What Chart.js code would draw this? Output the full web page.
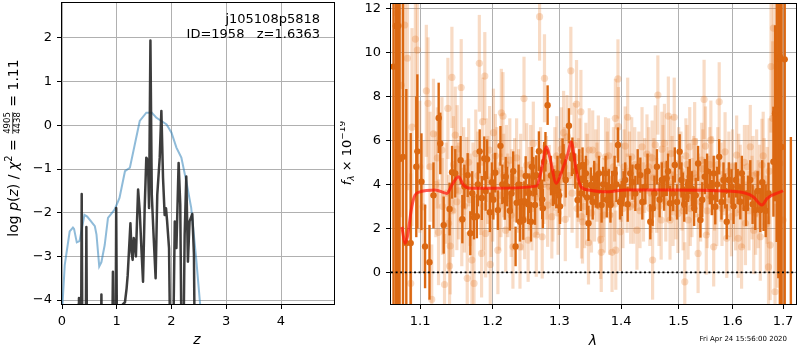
<!DOCTYPE html>
<html>
<head>
<meta charset="utf-8">
<script src="https://cdn.jsdelivr.net/npm/chart.js@4.4.1/dist/chart.umd.min.js"></script>
<style>
  body { margin: 0; background: #fff; }
  #wrap { position: relative; width: 800px; height: 350px; }
  canvas { position: absolute; top: 0; }
</style>
</head>
<body>
<div id="wrap">
  <canvas id="pz" width="340" height="350" style="left:0"></canvas>
  <canvas id="sp" width="460" height="350" style="left:340px"></canvas>
</div>
<script>
// ---- left panel: redshift probability ----
var zTicks = [0, 1, 2, 3, 4];
var pzTicks = [-4, -3, -2, -1, 0, 1, 2];
// chi2 / prior curve (blue)
var chiCurve = [
  [0.0, -4.3], [0.05, -3.2], [0.14, -2.43], [0.2, -2.34], [0.22, -2.37], [0.27, -2.68],
  [0.32, -2.65], [0.41, -2.05], [0.46, -2.09], [0.6, -2.31], [0.63, -2.5], [0.68, -3.23],
  [0.72, -3.13], [0.78, -2.74], [0.84, -2.12], [0.96, -1.93], [1.05, -1.66], [1.15, -1.05],
  [1.24, -0.97], [1.42, 0.1], [1.54, 0.29], [1.64, 0.29], [1.72, 0.18], [1.91, 0.02],
  [2.0, -0.17], [2.09, -0.51], [2.18, -0.74], [2.27, -1.28], [2.36, -1.89], [2.45, -3.04],
  [2.53, -4.2]
];
// log p(z) (dark)
var logPz = [
  [0.28, -6], [0.30, -4.1], [0.31, -3.95], [0.32, -4.3], [0.345, -6], [0.36, -1.57],
  [0.375, -6], [0.43, -6], [0.445, -2.33], [0.46, -6], [0.70, -6], [0.72, -3.87],
  [0.735, -6], [0.91, -6], [0.93, -3.35], [0.95, -6], [0.975, -6], [0.99, -1.89],
  [1.01, -6], [1.09, -6], [1.11, -4.1], [1.15, -4.05], [1.18, -3.73], [1.20, -3.43],
  [1.25, -2.24], [1.27, -2.9], [1.29, -3.08], [1.31, -2.58], [1.33, -2.7], [1.35, -3.0],
  [1.37, -2.2], [1.39, -1.47], [1.42, -1.97], [1.45, -2.81], [1.48, -3.58], [1.51, -1.89],
  [1.54, -0.74], [1.57, -0.82], [1.59, -1.89], [1.615, 1.94], [1.64, -1.59], [1.675, -2.58],
  [1.71, -3.5], [1.74, -1.59], [1.785, -0.74], [1.815, 0.33], [1.845, -1.2], [1.875, -2.05],
  [1.90, -1.9], [1.92, -2.2], [1.955, -2.81], [1.985, -6], [2.02, -6], [2.06, -2.2],
  [2.09, -2.81], [2.13, -0.86], [2.16, -1.82], [2.19, -6], [2.21, -6], [2.24, -2.51],
  [2.27, -1.17], [2.30, -3.12], [2.33, -2.2], [2.38, -2.03], [2.41, -2.97], [2.43, -6]
];

// ---- right panel: spectrum ----
var lamTicks = [1.1, 1.2, 1.3, 1.4, 1.5, 1.6, 1.7];
var fluxTicks = [0, 2, 4, 6, 8, 10, 12];
var lamMin = 1.0623, lamMax = 1.7266;
// [lambda, flux, err] - strong points
var darkPts = [
  [1.0655, 9.35, 20], [1.0685, 11.2, 20], [1.0715, 11.2, 20], [1.0733, 5.15, 12], [1.0777, 5.25, 10],
  [1.0820, 1.33, 7], [1.0877, 1.33, 5], [1.0950, 4.8, 3.2], [1.0964, 5.5, 3.5], [1.1018, 4.12, 2.2],
  [1.1066, 1.18, 1.9], [1.1125, 0.46, 1.7], [1.1178, 3.5, 1.5], [1.1248, 7.02, 1.6], [1.1270, 5.86, 1.4],
  [1.1316, 2.15, 1.3], [1.1396, 2.88, 1.2], [1.1430, 4.55, 1.2], [1.1474, 4.5, 1.1], [1.1548, 5.1, 1.1],
  [1.1572, 2.42, 1.1], [1.1600, 3.9, 1.0], [1.1646, 4.42, 1.0], [1.1683, 1.78, 1.0], [1.1710, 3.6, 1.0],
  [1.1735, 2.5, 1.0], [1.1775, 2.55, 1.0], [1.1790, 4.0, 1.0], [1.1815, 5.5, 1.0], [1.1845, 3.38, 1.0],
  [1.1880, 5.18, 1.0], [1.1900, 3.7, 0.9], [1.1920, 5.14, 0.9], [1.1960, 2.73, 0.9], [1.1990, 4.1, 0.9],
  [1.2010, 3.3, 0.9], [1.2037, 4.53, 0.9], [1.2076, 2.83, 0.9], [1.2113, 5.75, 0.9], [1.2140, 4.0, 0.9],
  [1.2176, 3.29, 0.9], [1.2190, 4.35, 0.9], [1.2210, 3.9, 0.9], [1.2250, 2.8, 0.9], [1.2275, 3.59, 0.9],
  [1.2300, 4.6, 0.9], [1.2335, 1.18, 0.9], [1.2350, 3.16, 0.9], [1.2380, 4.0, 0.9], [1.2400, 2.3, 0.9],
  [1.2420, 3.21, 0.9], [1.2450, 2.38, 0.9], [1.2465, 3.24, 0.9], [1.2485, 4.38, 0.9], [1.2522, 3.1, 0.9],
  [1.2540, 3.6, 0.9], [1.2565, 2.3, 0.9], [1.2580, 4.8, 0.9], [1.2600, 4.35, 0.9], [1.2625, 3.06, 0.9],
  [1.2645, 4.42, 0.9], [1.2685, 5.51, 0.9], [1.2710, 3.9, 0.9], [1.2735, 3.32, 0.9], [1.2745, 2.91, 0.9],
  [1.2765, 5.03, 0.9], [1.2785, 5.48, 0.9], [1.2818, 7.6, 0.9], [1.2870, 4.4, 0.9], [1.2900, 3.82, 0.8],
  [1.2918, 3.89, 0.8], [1.2952, 3.71, 0.8], [1.2970, 4.5, 0.8], [1.2993, 3.5, 0.8], [1.3010, 3.0, 0.8],
  [1.3050, 5.29, 0.8], [1.3066, 5.03, 0.8], [1.3100, 4.2, 0.8], [1.3150, 6.66, 0.8], [1.3196, 5.18, 0.8],
  [1.3205, 5.33, 0.8], [1.3250, 4.6, 0.8], [1.3287, 3.29, 0.8], [1.3313, 4.8, 0.8], [1.3340, 3.59, 0.8],
  [1.3366, 4.88, 0.8], [1.3390, 4.2, 0.8], [1.3420, 4.5, 0.8], [1.3440, 3.4, 0.8], [1.3462, 2.23, 0.8],
  [1.3500, 3.97, 0.8], [1.3530, 3.2, 0.8], [1.3555, 4.27, 0.8], [1.3580, 3.74, 0.8], [1.3610, 3.7, 0.8],
  [1.3633, 4.5, 0.8], [1.3675, 3.06, 0.8], [1.3700, 4.0, 0.8], [1.3741, 4.5, 0.8], [1.3760, 3.3, 0.8],
  [1.3794, 3.89, 0.8], [1.3821, 3.06, 0.8], [1.3850, 3.82, 0.8], [1.3890, 4.5, 0.8], [1.3920, 4.0, 0.8],
  [1.3946, 5.79, 0.8], [1.3980, 3.2, 0.8], [1.4010, 3.36, 0.8], [1.4040, 3.8, 0.8], [1.4068, 4.2, 0.8],
  [1.4110, 3.1, 0.8], [1.4153, 4.5, 0.8], [1.4190, 4.1, 0.8], [1.4240, 3.59, 0.8], [1.4280, 4.8, 0.8],
  [1.4326, 4.42, 0.8], [1.4360, 3.2, 0.8], [1.4412, 3.89, 0.8], [1.4450, 4.6, 0.8], [1.4498, 2.3, 0.8],
  [1.4538, 2.91, 0.8], [1.4570, 3.6, 0.8], [1.4613, 4.8, 0.8], [1.4660, 3.3, 0.8], [1.4700, 4.2, 0.8],
  [1.4740, 3.6, 0.8], [1.4786, 4.27, 0.8], [1.4810, 4.6, 0.8], [1.4845, 3.14, 0.8], [1.4900, 3.59, 0.8],
  [1.4930, 4.88, 0.8], [1.4970, 3.2, 0.8], [1.5017, 5.48, 0.8], [1.5050, 4.2, 0.8], [1.5078, 3.74, 0.8],
  [1.5100, 3.1, 0.8], [1.5140, 3.44, 0.8], [1.5170, 4.0, 0.8], [1.5200, 4.35, 0.8], [1.5240, 3.8, 0.8],
  [1.5280, 2.91, 0.8], [1.5310, 3.5, 0.8], [1.5353, 4.95, 0.8], [1.5396, 2.38, 0.8], [1.5430, 3.3, 0.8],
  [1.5477, 4.35, 0.8], [1.5520, 4.6, 0.8], [1.5570, 3.89, 0.8], [1.5610, 3.4, 0.8], [1.5643, 4.5, 0.8],
  [1.5673, 2.98, 0.8], [1.5710, 4.0, 0.8], [1.5747, 5.25, 0.8], [1.5790, 3.2, 0.8], [1.5828, 4.2, 0.8],
  [1.5860, 3.7, 0.8], [1.5890, 2.3, 0.8], [1.5930, 4.2, 0.8], [1.5980, 3.89, 0.8], [1.6020, 3.0, 0.8],
  [1.6065, 4.2, 0.8], [1.6100, 3.9, 0.8], [1.6150, 3.21, 0.8], [1.6180, 4.5, 0.8], [1.6215, 3.59, 0.8],
  [1.6260, 2.91, 0.8], [1.6300, 3.6, 0.8], [1.6345, 4.2, 0.9], [1.6390, 3.1, 0.9], [1.6443, 2.83, 0.9],
  [1.6490, 3.7, 0.9], [1.6542, 2.83, 1.0], [1.6580, 4.1, 1.0], [1.6608, 2.98, 1.1], [1.6650, 2.8, 1.2],
  [1.6706, 3.59, 1.4], [1.6805, 5.03, 2.5], [1.6837, 7.23, 4], [1.6870, 7.38, 6], [1.6904, 9.73, 10],
  [1.6935, 9.8, 15], [1.6970, 5.7, 20], [1.7034, 9.68, 20], [1.7160, -3.0, 9.15]
];
// [lambda, flux, err] - faint points
var lightPts = [
  [1.0702, 11.77, 6], [1.0754, 8.5, 6], [1.0799, 11.24, 6], [1.0834, 9.73, 6], [1.0877, -0.5, 5],
  [1.0894, 6.6, 4.5], [1.0938, 10.6, 4], [1.0964, 10.1, 4], [1.0996, 4.8, 3], [1.1040, 2.98, 3],
  [1.1083, 8.25, 3], [1.1105, 7.68, 3], [1.1132, 4.8, 2.5], [1.1155, -1.23, 2.5], [1.1178, 6.3, 2.5],
  [1.1210, 4.0, 2.4], [1.1230, 5.2, 2.3], [1.1246, 1.82, 2.4], [1.1292, 5.56, 2.4], [1.1300, 3.0, 2.2],
  [1.1327, -0.55, 2.3], [1.1350, 3.6, 2.3], [1.1373, 7.45, 2.3], [1.1382, 2.23, 2.2], [1.1396, 0.29, 2.2],
  [1.1405, 1.2, 2.2], [1.1428, 8.86, 2.3], [1.1440, 2.8, 2.1], [1.1450, 4.9, 2.2], [1.1474, 6.24, 2.2],
  [1.1496, 3.21, 2.2], [1.1500, 5.6, 2.0], [1.1520, 3.7, 2.2], [1.1556, 8.4, 2.2], [1.1564, 2.38, 2.1],
  [1.1590, 4.6, 2.0], [1.1600, 3.0, 2.1], [1.1632, 4.05, 2.1], [1.1640, -0.27, 2.1], [1.1660, 5.0, 2.0],
  [1.1680, 3.3, 2.1], [1.1706, 0.56, 2.1], [1.1720, 3.9, 2.0], [1.1735, -0.5, 2.1], [1.1760, 5.4, 2.0],
  [1.1790, 4.4, 2.0], [1.1810, 9.5, 2.2], [1.1830, 3.6, 1.9], [1.1842, 0.86, 2.0], [1.1857, 6.85, 2.0],
  [1.1870, 3.0, 2.0], [1.1888, 8.92, 2.0], [1.1900, 1.77, 2.0], [1.1910, 5.1, 1.9], [1.1930, 4.2, 2.0],
  [1.1956, 5.56, 2.0], [1.1966, 0.36, 2.0], [1.1980, 2.6, 1.9], [1.2000, 3.4, 2.0], [1.2012, 6.35, 2.0],
  [1.2040, 5.3, 1.9], [1.2060, 4.6, 2.0], [1.2076, 1.01, 2.0], [1.2100, 3.0, 2.0], [1.2120, 3.5, 1.9],
  [1.2126, 7.25, 2.0], [1.2150, 7.1, 2.0], [1.2160, 4.4, 1.9], [1.2190, 1.92, 1.9], [1.2200, 4.9, 1.8],
  [1.2220, 3.5, 1.9], [1.2250, 5.1, 1.9], [1.2270, 2.6, 1.9], [1.2280, 3.8, 1.8], [1.2296, 1.16, 1.9],
  [1.2320, 4.2, 1.9], [1.2350, 5.2, 1.8], [1.2380, 3.7, 1.9], [1.2400, 1.16, 1.9], [1.2410, 4.5, 1.8],
  [1.2430, 2.9, 1.9], [1.2460, 7.9, 1.9], [1.2470, 2.4, 1.8], [1.2500, 4.88, 1.9], [1.2522, 1.47, 1.9],
  [1.2540, 3.8, 1.9], [1.2560, 4.9, 1.8], [1.2580, 2.9, 1.9], [1.2600, 5.86, 1.9], [1.2630, 3.4, 1.8],
  [1.2645, 1.7, 1.9], [1.2670, 3.6, 1.9], [1.2695, 11.62, 2.0], [1.2710, 4.7, 1.9], [1.2735, 1.62, 1.9],
  [1.2760, 4.0, 1.8], [1.2770, 8.82, 2.0], [1.2800, 4.3, 1.9], [1.2818, 3.06, 1.9], [1.2845, 3.89, 1.9],
  [1.2883, 2.53, 1.9], [1.2900, 3.2, 1.8], [1.2930, 4.7, 1.9], [1.2960, 5.3, 1.8], [1.2980, 2.7, 1.9],
  [1.3000, 3.5, 1.8], [1.3013, 4.2, 1.9], [1.3030, 5.6, 1.9], [1.3066, 6.35, 1.9], [1.3080, 4.8, 1.8],
  [1.3093, 2.41, 1.9], [1.3120, 6.16, 1.9], [1.3150, 4.4, 1.9], [1.3180, 9.16, 2.0], [1.3200, 3.6, 1.8],
  [1.3230, 5.8, 1.9], [1.3270, 7.65, 2.0], [1.3280, 2.9, 1.8], [1.3300, 4.2, 1.9], [1.3320, 5.2, 1.8],
  [1.3340, 7.3, 1.9], [1.3350, 2.53, 1.9], [1.3366, 2.3, 1.9], [1.3400, 3.0, 1.9], [1.3420, 5.0, 1.8],
  [1.3440, 4.4, 1.9], [1.3462, 1.35, 1.9], [1.3475, 5.56, 1.9], [1.3510, 2.7, 1.8], [1.3530, 5.56, 1.8],
  [1.3560, 3.2, 1.8], [1.3580, 4.8, 1.7], [1.3600, 4.1, 1.8], [1.3622, 5.33, 1.8], [1.3640, 3.0, 1.7],
  [1.3660, 1.5, 1.8], [1.3670, 0.91, 1.8], [1.3700, 3.4, 1.8], [1.3720, 2.6, 1.7], [1.3740, 5.25, 1.8],
  [1.3770, 4.6, 1.8], [1.3790, 5.3, 1.7], [1.3810, 2.6, 1.8], [1.3830, 4.2, 1.7], [1.3848, 0.91, 1.8],
  [1.3870, 4.8, 1.8], [1.3890, 3.1, 1.7], [1.3903, 7.0, 1.8], [1.3910, 1.01, 1.8], [1.3946, 8.79, 1.8],
  [1.3955, 6.62, 1.8], [1.3985, 1.85, 1.8], [1.4000, 4.1, 1.8], [1.4030, 2.9, 1.8], [1.4050, 4.8, 1.7],
  [1.4068, 5.74, 1.8], [1.4100, 3.6, 1.8], [1.4110, 7.05, 1.8], [1.4140, 4.6, 1.8], [1.4160, 3.0, 1.7],
  [1.4178, 5.25, 1.8], [1.4210, 3.1, 1.8], [1.4230, 4.9, 1.7], [1.4268, 1.92, 1.8], [1.4300, 4.6, 1.8],
  [1.4320, 2.8, 1.7], [1.4355, 5.71, 1.8], [1.4380, 3.2, 1.8], [1.4400, 4.4, 1.7], [1.4440, 5.38, 1.8],
  [1.4470, 4.8, 1.8], [1.4490, 2.9, 1.7], [1.4510, 3.6, 1.8], [1.4530, 5.2, 1.7], [1.4538, 0.56, 1.8],
  [1.4560, 4.3, 1.8], [1.4584, 5.79, 1.8], [1.4610, 3.5, 1.7], [1.4630, 8.06, 1.8], [1.4650, 3.0, 1.8],
  [1.4688, 2.38, 1.8], [1.4700, 5.6, 1.7], [1.4720, 4.9, 1.8], [1.4746, 5.86, 1.8], [1.4770, 3.2, 1.8],
  [1.4790, 4.0, 1.7], [1.4815, 7.1, 1.8], [1.4845, 2.38, 1.8], [1.4860, 5.4, 1.7], [1.4880, 4.4, 1.8],
  [1.4900, 2.9, 1.7], [1.4920, 7.05, 1.8], [1.4950, 3.3, 1.8], [1.4986, 2.68, 1.8], [1.5000, 4.9, 1.7],
  [1.5040, 4.6, 1.8], [1.5060, 3.6, 1.7], [1.5080, 2.8, 1.8], [1.5110, -0.43, 1.8], [1.5130, 5.3, 1.7],
  [1.5150, 4.9, 1.8], [1.5170, 2.38, 1.8], [1.5200, 5.71, 1.8], [1.5210, 2.9, 1.7], [1.5240, 3.4, 1.8],
  [1.5270, 4.5, 1.7], [1.5290, 5.94, 1.8], [1.5320, 4.3, 1.8], [1.5353, 0.86, 1.8], [1.5360, 3.7, 1.7],
  [1.5400, 3.2, 1.8], [1.5420, 5.1, 1.7], [1.5440, 4.7, 1.8], [1.5464, 7.86, 1.8], [1.5490, 5.74, 1.8],
  [1.5505, 1.7, 1.8], [1.5520, 2.8, 1.7], [1.5540, 3.5, 1.8], [1.5570, 4.9, 1.7], [1.5590, 6.01, 1.8],
  [1.5610, 4.4, 1.8], [1.5643, 1.16, 1.8], [1.5660, 3.6, 1.7], [1.5700, 3.0, 1.8], [1.5720, 4.9, 1.7],
  [1.5747, 7.75, 1.8], [1.5780, 4.1, 1.8], [1.5800, 2.9, 1.7], [1.5840, 4.3, 1.7], [1.5858, 5.48, 1.8],
  [1.5890, 1.55, 1.8], [1.5930, 4.6, 1.8], [1.5950, 3.3, 1.7], [1.5980, 2.53, 1.8], [1.6000, 4.8, 1.7],
  [1.6020, 3.2, 1.8], [1.6060, 2.7, 1.7], [1.6080, 5.33, 1.8], [1.6110, 1.55, 1.8], [1.6120, 4.5, 1.8],
  [1.6150, 4.1, 1.7], [1.6175, 1.16, 1.9], [1.6200, 3.0, 1.9], [1.6230, 5.0, 1.7], [1.6250, 2.23, 1.9],
  [1.6290, 4.8, 1.9], [1.6320, 2.8, 1.8], [1.6345, 5.71, 1.9], [1.6380, 3.4, 1.9], [1.6400, 4.4, 1.8],
  [1.6412, 1.92, 2.0], [1.6450, 2.7, 1.9], [1.6470, 4.5, 2.0], [1.6500, 3.1, 2.0], [1.6530, 3.9, 1.9],
  [1.6542, 1.62, 2.0], [1.6575, 4.88, 2.1], [1.6600, 5.3, 2.0], [1.6620, 4.0, 2.1], [1.6660, 2.2, 2.2],
  [1.6680, 3.5, 2.2], [1.6706, 0.25, 2.3], [1.6720, 4.6, 2.4], [1.6740, 1.24, 2.5], [1.6756, 9.35, 3],
  [1.6790, 7.0, 3.5], [1.6805, 11.1, 4], [1.6837, -0.88, 4], [1.6880, 3.8, 4.5], [1.6935, 4.95, 5],
  [1.7000, 2.38, 5]
];
// model spectrum (red)
var modelLam = [1.0762, 1.0806, 1.0834, 1.0891, 1.0934, 1.1, 1.1204, 1.136, 1.1428, 1.1518,
  1.1587, 1.168, 1.2, 1.2645, 1.2723, 1.28, 1.285, 1.2953, 1.3026, 1.3135, 1.3185, 1.3265,
  1.334, 1.3475, 1.374, 1.4068, 1.487, 1.61, 1.64, 1.6575, 1.668, 1.7];
var modelFlux = [2.07, 1.32, 1.62, 2.98, 3.51, 3.66, 3.74, 3.59, 3.97, 4.35,
  3.97, 3.82, 3.82, 3.92, 4.65, 5.71, 5.25, 4.05, 4.5, 5.41, 5.94, 4.65,
  3.89, 3.74, 3.66, 3.74, 3.74, 3.66, 3.44, 3.06, 3.36, 3.71];

var FONT = "'DejaVu Sans', sans-serif";
var minus = function (v) { return (v < 0 ? '\u2212' : '') + Math.abs(v); };

function richText(ctx, parts, x, y, angle) {
  ctx.save();
  ctx.translate(x, y);
  ctx.rotate(angle);
  var total = 0;
  parts.forEach(function (p) {
    ctx.font = p.font;
    p.w = p.frac ? Math.max(ctx.measureText(p.frac[0]).width, ctx.measureText(p.frac[1]).width) + 2
                 : ctx.measureText(p.t).width;
    total += p.w;
  });
  var cx = -total / 2;
  ctx.fillStyle = '#000';
  ctx.textBaseline = 'middle';
  parts.forEach(function (p) {
    ctx.font = p.font;
    if (p.frac) {
      ctx.textAlign = 'center';
      ctx.fillText(p.frac[0], cx + p.w / 2, -6);
      ctx.fillText(p.frac[1], cx + p.w / 2, 3.5);
      ctx.fillRect(cx + 1, -1.6, p.w - 2, 0.8);
    } else {
      ctx.textAlign = 'left';
      ctx.fillText(p.t, cx, p.dy || 0);
    }
    cx += p.w;
  });
  ctx.restore();
}

var frame = {
  id: 'frame',
  afterDraw: function (chart) {
    var a = chart.chartArea, ctx = chart.ctx;
    ctx.save();
    ctx.strokeStyle = '#000';
    ctx.lineWidth = 1;
    ctx.strokeRect(Math.round(a.left) - 0.5, Math.round(a.top) - 0.5,
                   Math.round(a.width) + 1, Math.round(a.height) + 1);
    ctx.restore();
  }
};

var errorBars = {
  id: 'errorBars',
  beforeDatasetDraw: function (chart, args) {
    var ds = chart.data.datasets[args.index];
    if (!ds.errs) return;
    var ctx = chart.ctx, a = chart.chartArea, xs = chart.scales.x, ys = chart.scales.y;
    ctx.save();
    ctx.beginPath();
    ctx.rect(a.left, a.top, a.right - a.left, a.bottom - a.top);
    ctx.clip();
    ctx.strokeStyle = ds.barColor;
    ctx.lineWidth = ds.barWidth;
    ds.data.forEach(function (p, i) {
      var px = xs.getPixelForValue(p.x);
      ctx.beginPath();
      ctx.moveTo(px, ys.getPixelForValue(p.y - ds.errs[i]));
      ctx.lineTo(px, ys.getPixelForValue(p.y + ds.errs[i]));
      ctx.stroke();
    });
    ctx.restore();
  }
};

var pzLabels = {
  id: 'pzLabels',
  afterDraw: function (chart) {
    var ctx = chart.ctx;
    ctx.save();
    ctx.fillStyle = '#000';
    ctx.font = '13px ' + FONT;
    ctx.textAlign = 'right';
    ctx.textBaseline = 'middle';
    ctx.fillText('j105108p5818', 320, 20);
    ctx.fillText('ID=1958   z=1.6363', 320, 35);
    ctx.textAlign = 'center';
    ctx.font = 'italic 14px ' + FONT;
    ctx.fillText('z', 197, 340);
    ctx.restore();
    var n = '14px ' + FONT, it = 'italic 14px ' + FONT, sm = '8.5px ' + FONT;
    richText(ctx, [
      { t: 'log ', font: n }, { t: 'p', font: it }, { t: '(', font: n }, { t: 'z', font: it },
      { t: ') / ', font: n }, { t: '\u03c7', font: it }, { t: '2', font: '10px ' + FONT, dy: -5 },
      { t: ' = ', font: n }, { frac: ['4905', '4438'], font: sm }, { t: ' = 1.11', font: n }
    ], 14, 148, -Math.PI / 2);
  }
};

var spLabels = {
  id: 'spLabels',
  afterDraw: function (chart) {
    var ctx = chart.ctx;
    ctx.save();
    ctx.fillStyle = '#000';
    ctx.textAlign = 'center';
    ctx.textBaseline = 'middle';
    ctx.font = 'italic 14px ' + FONT;
    ctx.fillText('\u03bb', 253, 341);
    ctx.font = '7px ' + FONT;
    ctx.textAlign = 'right';
    ctx.fillText('Fri Apr 24 15:56:00 2020', 447, 339);
    ctx.restore();
    var n = '13px ' + FONT;
    richText(ctx, [
      { t: 'f', font: 'italic 13px ' + FONT }, { t: '\u03bb', font: 'italic 9px ' + FONT, dy: 4 },
      { t: ' \u00d7 10', font: n }, { t: '\u221219', font: '9px ' + FONT, dy: -5 }
    ], 8, 153, -Math.PI / 2);
  }
};

function axisCommon(ticks, fmt) {
  return {
    afterBuildTicks: function (s) { s.ticks = ticks.map(function (v) { return { value: v }; }); },
    grid: { color: '#b0b0b0', lineWidth: 1, drawTicks: true, tickLength: 5, tickColor: '#000', tickWidth: 1 },
    border: { display: false },
    ticks: { color: '#000', font: { family: FONT, size: 13 }, padding: 5, autoSkip: false, maxRotation: 0, callback: fmt }
  };
}
function fixX(h) {
  return function (s) { s.height = h; s.paddingLeft = 0; s.paddingRight = 0; };
}
function fixY(w) {
  return function (s) { s.width = w; s.paddingTop = 0; s.paddingBottom = 0; };
}

var pzX = axisCommon(zTicks, minus);
pzX.type = 'linear'; pzX.min = 0; pzX.max = 4.968;
pzX.afterFit = fixX(46);
var pzY = axisCommon(pzTicks, minus);
pzY.min = -4.09; pzY.max = 2.8;
pzY.afterFit = fixY(62);

new Chart(document.getElementById('pz'), {
  type: 'scatter',
  data: {
    datasets: [{
      data: logPz.map(function (p) { return { x: p[0], y: p[1] }; }),
      showLine: true, borderColor: 'rgba(40,40,40,0.9)', borderWidth: 2.5, pointRadius: 0,
      borderJoinStyle: 'round', tension: 0
    }, {
      data: chiCurve.map(function (p) { return { x: p[0], y: p[1] }; }),
      showLine: true, borderColor: 'rgba(31,119,180,0.5)', borderWidth: 2, pointRadius: 0, tension: 0
    }]
  },
  options: {
    responsive: false, animation: false,
    layout: { padding: { left: 0, right: 6, top: 3, bottom: 0 } },
    plugins: { legend: { display: false }, tooltip: { enabled: false } },
    scales: { x: pzX, y: pzY }
  },
  plugins: [frame, pzLabels]
});

var spX = axisCommon(lamTicks, function (v) { return v.toFixed(1); });
spX.type = 'logarithmic'; spX.min = lamMin; spX.max = lamMax;
spX.afterFit = fixX(46);
var spY = axisCommon(fluxTicks, minus);
spY.min = -1.436; spY.max = 12.195;
spY.afterFit = fixY(51);

var ORANGE = 'rgb(219,104,18)';
var ORANGE_L = 'rgba(230,125,45,0.28)';

new Chart(document.getElementById('sp'), {
  type: 'scatter',
  data: {
    datasets: [{
      data: [{ x: lamMin, y: 0 }, { x: lamMax, y: 0 }],
      showLine: true, borderColor: '#000', borderWidth: 1.6, borderDash: [2, 2.6], pointRadius: 0
    }, {
      data: modelLam.map(function (l, i) { return { x: l, y: modelFlux[i] }; }),
      showLine: true, borderColor: 'rgba(255,20,10,0.7)', borderWidth: 3, pointRadius: 0,
      cubicInterpolationMode: 'monotone'
    }, {
      data: darkPts.map(function (p) { return { x: p[0], y: p[1] }; }),
      errs: darkPts.map(function (p) { return p[2]; }),
      barColor: ORANGE, barWidth: 2.4,
      pointRadius: 3.2, pointBackgroundColor: ORANGE, pointBorderWidth: 0
    }, {
      data: lightPts.map(function (p) { return { x: p[0], y: p[1] }; }),
      errs: lightPts.map(function (p) { return p[2]; }),
      barColor: ORANGE_L, barWidth: 3.2,
      pointRadius: 3.6, pointBackgroundColor: ORANGE_L, pointBorderWidth: 0
    }]
  },
  options: {
    responsive: false, animation: false,
    layout: { padding: { left: 0, right: 1, top: 3, bottom: 0 } },
    plugins: { legend: { display: false }, tooltip: { enabled: false } },
    scales: { x: spX, y: spY }
  },
  plugins: [errorBars, frame, spLabels]
});
</script>
</body>
</html>
